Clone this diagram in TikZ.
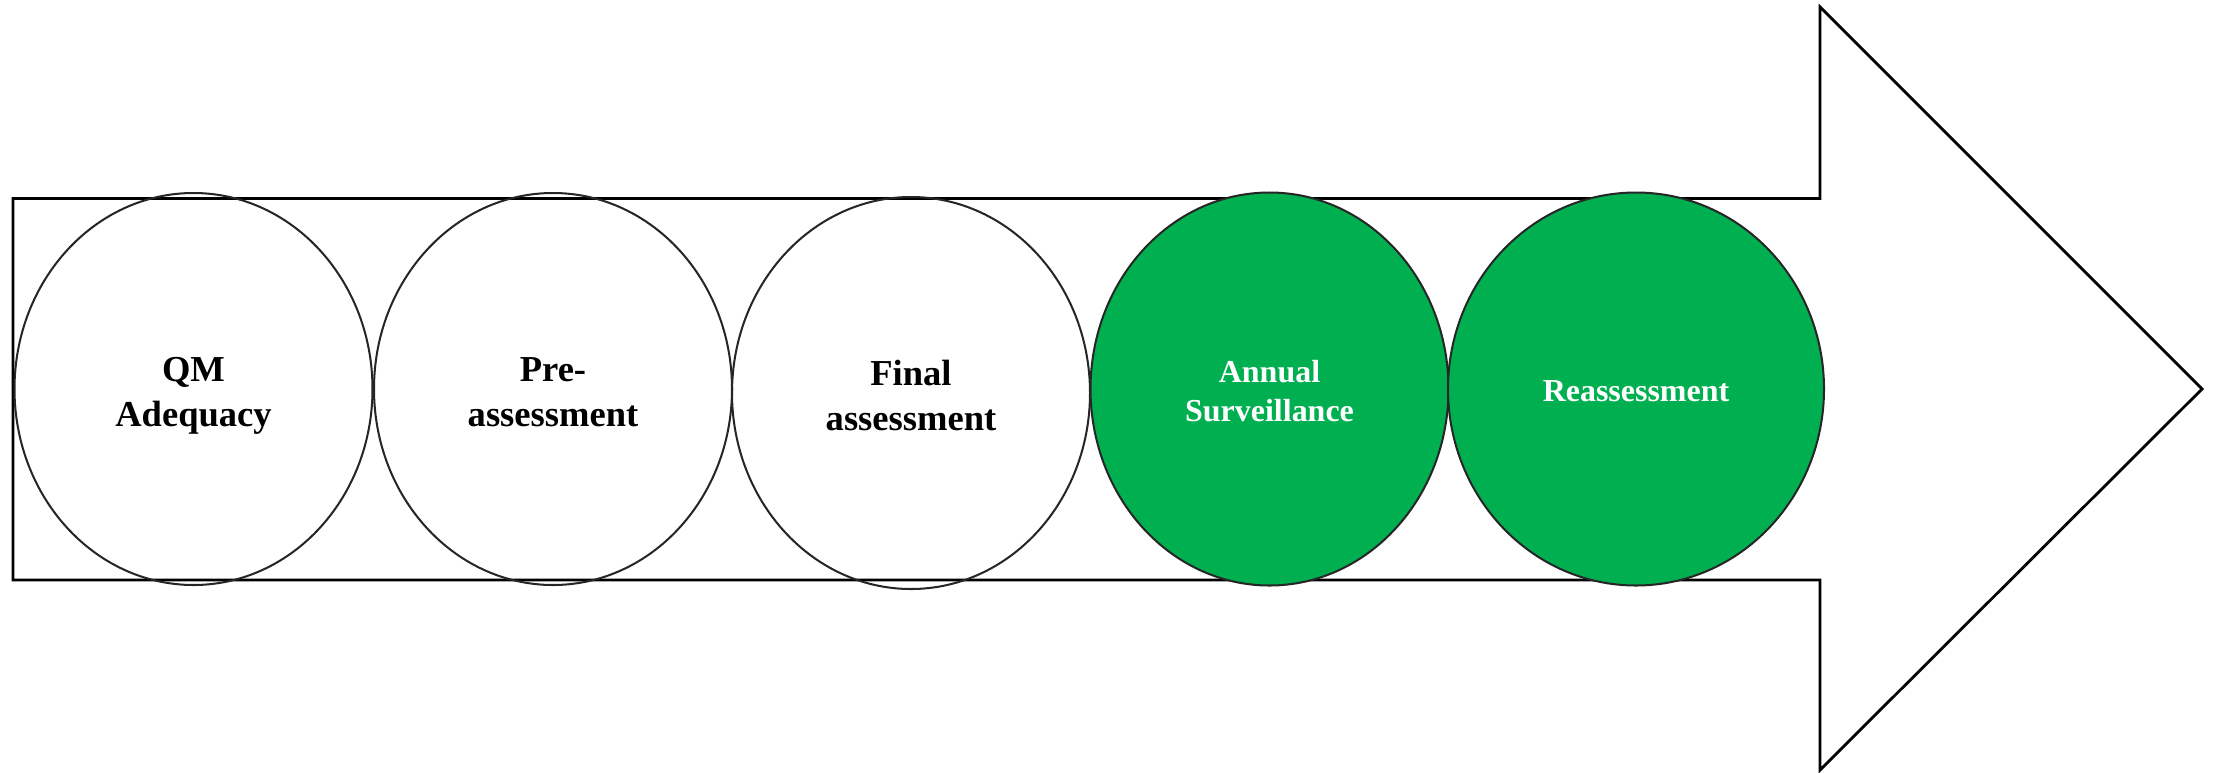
\documentclass[tikz,border=0pt]{standalone}
\usepackage{fontspec}
\setmainfont{Liberation Serif}
\usetikzlibrary{shapes.geometric}
\definecolor{stagegreen}{HTML}{00B050}
\definecolor{stageline}{HTML}{262626}
\tikzset{
  bigarrow/.style={draw=black, line width=1.6pt, fill=white, line join=miter},
  stagebase/.style={ellipse, draw=stageline, line width=1.15pt, inner sep=0pt, outer sep=0pt},
  stagewhite/.style={stagebase},
  stagegreenfill/.style={stagebase, fill=stagegreen},
  lblblack/.style={align=center, text=black, font=\fontsize{20.8pt}{25.6pt}\selectfont\bfseries, inner sep=0pt},
  lblwhite/.style={align=center, text=white, font=\fontsize{18.2pt}{22.2pt}\selectfont\bfseries, inner sep=0pt}
}
\begin{document}
\begin{tikzpicture}[x=0.02cm, y=-0.02cm]
\useasboundingbox (0,0) rectangle (2213,772);
% big arrow
\draw[bigarrow] (13,198.5) -- (1820,198.5) -- (1820,7) -- (2202,389) -- (1820,770) -- (1820,580) -- (13,580) -- cycle;
% stages
\node[stagewhite, minimum width=358*0.02cm, minimum height=392*0.02cm] (s1) at (193.5,389) {};
\node[stagewhite, minimum width=358*0.02cm, minimum height=392*0.02cm] (s2) at (553,389) {};
\node[stagewhite, minimum width=358*0.02cm, minimum height=392*0.02cm] (s3) at (911,393) {};
\node[stagegreenfill, minimum width=358*0.02cm, minimum height=393*0.02cm] (s4) at (1269.5,389) {};
\node[stagegreenfill, minimum width=376*0.02cm, minimum height=393*0.02cm] (s5) at (1636,389) {};
% labels
\node[lblblack] (t1) at ([yshift=-7*0.02cm]s1.center) {QM\\Adequacy};
\node[lblblack] (t2) at ([yshift=-3*0.02cm]s2.center) {Pre-\\assessment};
\node[lblblack] (t3) at ([yshift=-2*0.02cm]s3.center) {Final\\assessment};
\node[lblwhite] (t4) at ([yshift=-2*0.02cm]s4.center) {Annual\\Surveillance};
\node[lblwhite] (t5) at ([yshift=-2*0.02cm]s5.center) {Reassessment};
\end{tikzpicture}
\end{document}
